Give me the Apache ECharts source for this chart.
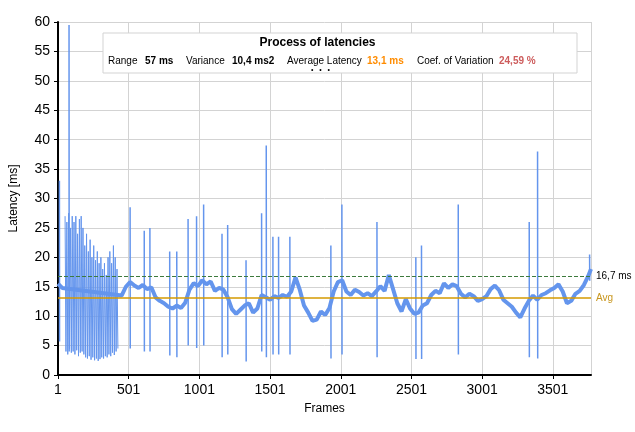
<!DOCTYPE html>
<html>
<head>
<meta charset="UTF-8">
<title>Process of latencies</title>
<script src="https://cdn.jsdelivr.net/npm/echarts@6/dist/echarts.min.js"></script>
</head>
<body style="margin:0;width:635px;height:432px;background:#fff;">
<div id="main" style="width:635px;height:432px;"></div>
<script>
// baseline, one value every 30 frames (frames 60..420 are the noisy start, drawn from chaos arrays)
var baseStep = 30;
var baseValues = [15.5,14.8,14,14,13,13,12,12,11,10.5,10,10,11,11.5,12,
  13.5,15,15.8,15.2,14.8,15.3,14.6,14.9,13.2,12.6,12.2,11.6,11.3,11.8,11.4,12.3,14.5,15.6,15.1,16.1,15.4,15.9,
  14.3,14.8,14.5,13.2,11.2,10.4,11.1,11.8,12.2,10.6,11.3,13.6,13.2,12.8,13.4,13.1,13.6,13.3,14.2,16.6,14.5,11.8,
  10.6,9.2,9.4,10.8,10.2,11.4,14.2,15.8,16.1,14.2,13.6,14.5,14.1,13.5,13.9,13.4,14.2,15.1,14.3,17.0,14.6,12.2,
  10.8,12.9,11.3,10.4,10.6,11.8,12.2,13.6,14.3,13.9,15.6,14.8,15.4,15.1,13.8,13.2,13.8,13.4,12.6,12.9,13.4,14.6,
  15.2,14.4,12.8,12.2,11.6,10.6,9.8,11.3,12.6,13.5,12.8,13.6,13.9,14.4,14.8,15.4,14.2,12.2,12.6,13.8,14.3,15.3,16.8];
var lastFrame = 3770, lastValue = 18;

// noisy start: frames 50..430
var chaosHighs = [27,26,27.5,25,27,26,27,24,26.5,27,25,22,24,21,23,20,22,19.5,21,19,20,18,19,17,20,21,19,22,20,18];
var chaosLows = [4,3.5,4.5,3.8,4,3.5,4.2,3.2,3.8,4,3.5,3,2.8,3.2,2.6,3,2.5,2.8,2.4,2.7,3,2.8,3.2,3,3.5,3.2,3.8,3.4,4,4.5];

// isolated spikes
var spikeFrames = [10,78,510,610,650,790,840,920,980,1030,1160,1200,1330,1440,1473,1520,1560,1640,1930,2008,2256,2531,2571,2831,3333,3392,3760];
var spikeHighs  = [33,59.5,28.5,24.5,25,21,21,26.5,27,29,24,25.5,19.5,27.5,39,23.5,23.5,23.5,22,29,26,20,22,29,26,38,20.5];
var spikeLows   = [5.7,4,4.5,4,4,3.3,3,5,4.6,5,3,3.5,2.3,4,3,3.5,3.5,3.5,2.8,3.5,3,2.7,2.7,3.5,3,2.8,16];

var avgLatency = 13.1, frameBudget = 16.7;

var baseData = [];
baseValues.forEach(function (v, i) {
  var f = i * baseStep;
  if (f > 50 && f < 430) return;
  baseData.push([f, v]);
});
baseData.push([lastFrame, lastValue]);

var chaosData = [];
var step = 380 / chaosHighs.length;
chaosHighs.forEach(function (h, i) {
  var f = 50 + i * step;
  chaosData.push([f, h]);
  chaosData.push([f + step / 2, chaosLows[i]]);
});

var spikeData = [];
spikeFrames.forEach(function (f, i) {
  spikeData.push([f, spikeHighs[i]]);
  spikeData.push([f + 1, spikeLows[i]]);
  spikeData.push(null);
});

var chart = echarts.init(document.getElementById('main'));
var blue = '#6495ED';
chart.setOption({
  animation: false,
  grid: { left: 55, right: 44, top: 22, bottom: 57 },
  xAxis: {
    type: 'value', min: 0, max: 3770, interval: 500,
    name: 'Frames', nameLocation: 'middle', nameGap: 28,
    nameTextStyle: { color: '#000', fontSize: 12, fontFamily: 'Liberation Sans' },
    axisLine: { lineStyle: { color: '#000', width: 2 } },
    axisTick: { show: true, length: 4, lineStyle: { color: '#000' } },
    axisLabel: { color: '#000', fontSize: 14, fontFamily: 'Liberation Sans', showMaxLabel: false,
      formatter: function (v) { return v + 1; } },
    splitLine: { show: true, lineStyle: { color: '#d3d3d3' } }
  },
  yAxis: {
    type: 'value', min: 0, max: 60, interval: 5,
    name: 'Latency [ms]', nameLocation: 'middle', nameGap: 38,
    nameTextStyle: { color: '#000', fontSize: 12, fontFamily: 'Liberation Sans' },
    axisLine: { show: true, lineStyle: { color: '#000', width: 2 } },
    axisTick: { show: true, length: 4, lineStyle: { color: '#000' } },
    axisLabel: { color: '#000', fontSize: 14, fontFamily: 'Liberation Sans' },
    splitLine: { lineStyle: { color: '#d3d3d3' } }
  },
  series: [
    { type: 'line', data: chaosData, showSymbol: false, lineStyle: { color: blue, width: 1 } },
    { type: 'line', data: spikeData, showSymbol: false, connectNulls: false, lineStyle: { color: blue, width: 1.5 } },
    { type: 'line', data: baseData, showSymbol: false, lineStyle: { color: blue, width: 4 },
      markLine: {
        symbol: 'none', silent: true,
        data: [
          { yAxis: frameBudget, lineStyle: { color: '#3d7a3d', type: 'dashed', width: 1 },
            label: { formatter: '16,7 ms', color: '#000', fontSize: 10, fontFamily: 'Liberation Sans' } },
          { yAxis: avgLatency, lineStyle: { color: '#D49A00', type: 'solid', width: 1.5 },
            label: { formatter: 'Avg', color: '#C8961E', fontSize: 10, fontFamily: 'Liberation Sans' } }
        ]
      } }
  ],
  graphic: [
    { type: 'rect', shape: { x: 103, y: 33, width: 474, height: 40 },
      style: { fill: '#fff', stroke: '#d3d3d3', lineWidth: 1 }, z: 10 },
    { type: 'text', left: 'center', top: 37, z: 11,
      style: { text: 'Process of latencies', fill: '#000', font: 'bold 12px Liberation Sans' } },
    { type: 'text', x: 108, y: 56, z: 11, style: { text: 'Range', fill: '#000', font: '10px Liberation Sans' } },
    { type: 'text', x: 145, y: 56, z: 11, style: { text: '57 ms', fill: '#000', font: 'bold 10px Liberation Sans' } },
    { type: 'text', x: 186, y: 56, z: 11, style: { text: 'Variance', fill: '#000', font: '10px Liberation Sans' } },
    { type: 'text', x: 232, y: 56, z: 11, style: { text: '10,4 ms2', fill: '#000', font: 'bold 10px Liberation Sans' } },
    { type: 'text', x: 287, y: 56, z: 11, style: { text: 'Average Latency', fill: '#000', font: '10px Liberation Sans' } },
    { type: 'text', x: 311, y: 67, z: 11, style: { text: '•   •   •', fill: '#000', font: '7px Liberation Sans' } },
    { type: 'text', x: 367, y: 56, z: 11, style: { text: '13,1 ms', fill: '#FF8C00', font: 'bold 10px Liberation Sans' } },
    { type: 'text', x: 417, y: 56, z: 11, style: { text: 'Coef. of Variation', fill: '#000', font: '10px Liberation Sans' } },
    { type: 'text', x: 499, y: 56, z: 11, style: { text: '24,59 %', fill: '#CD5C5C', font: 'bold 10px Liberation Sans' } }
  ]
});
</script>
</body>
</html>
